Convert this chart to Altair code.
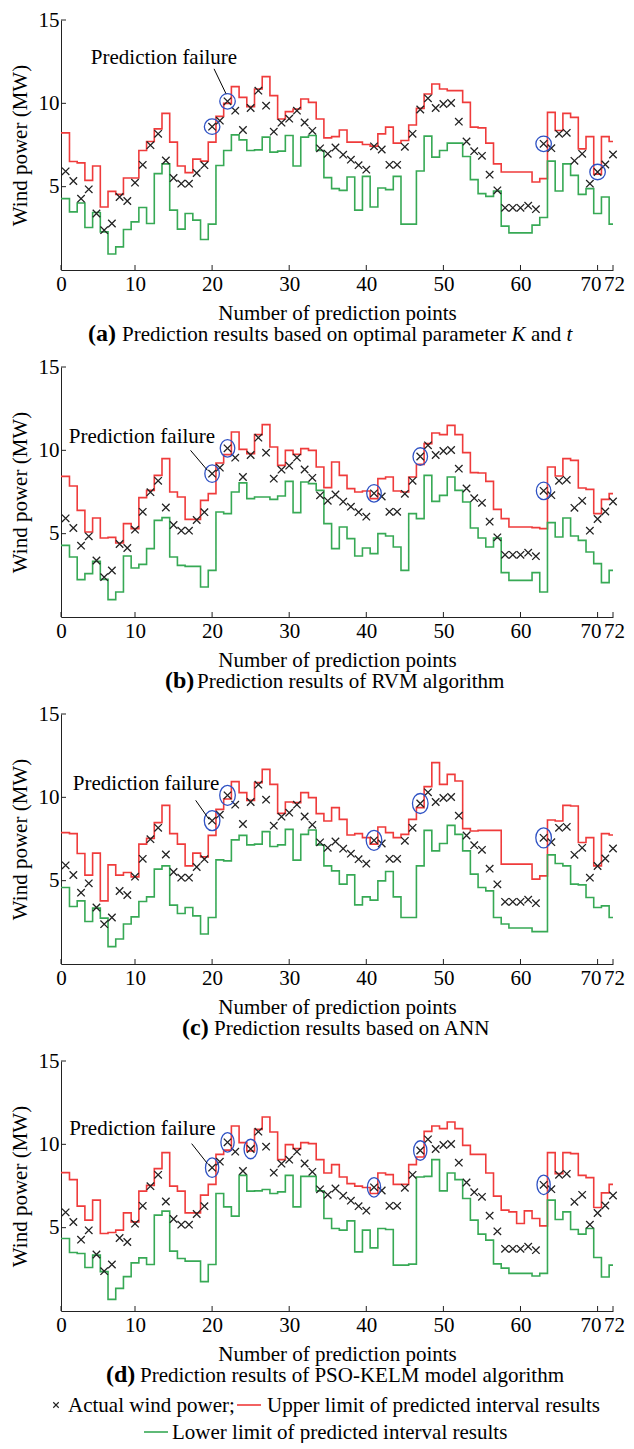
import altair as alt
import pandas as pd

FONT = "Liberation Serif"
RED = "#ef3b3b"
GREEN = "#37a955"
BLUE = "#2f52c4"
INK = "#222222"

# ---------------- data ----------------
points = list(range(1, 73))
actual = [5.92, 5.34, 4.28, 4.84, 3.39, 2.39, 2.79, 4.38, 4.14, 5.24,
          6.31, 7.49, 8.17, 6.57, 5.52, 5.18, 5.18, 5.82, 6.29, 8.60,
          8.96, 10.12, 9.56, 8.40, 9.72, 10.76, 9.86, 8.30, 8.84, 9.08,
          9.56, 8.85, 8.35, 7.30, 6.97, 7.35, 6.92, 6.62, 6.29, 6.02,
          7.42, 7.23, 6.31, 6.31, 7.39, 8.17, 9.63, 10.30, 9.72, 9.96,
          10.02, 8.90, 7.71, 7.13, 6.85, 5.72, 4.78, 3.73, 3.73, 3.73,
          3.86, 3.65, 7.57, 7.31, 8.17, 8.23, 6.55, 6.97, 5.18, 5.88,
          6.33, 6.93]

upper_a = [8.23, 6.51, 6.43, 5.38, 6.24, 3.78, 4.72, 4.54, 5.52, 5.52,
           7.17, 7.71, 8.47, 9.40, 7.67, 6.24, 5.84, 6.65, 6.53, 7.67,
           9.22, 10.00, 11.00, 10.36, 9.80, 10.86, 11.60, 10.46, 9.06, 9.50,
           9.66, 10.26, 10.06, 9.06, 7.93, 8.00, 8.40, 7.67, 7.67, 7.53,
           7.43, 8.17, 8.57, 7.61, 7.77, 8.70, 9.70, 10.56, 11.16, 10.86,
           10.76, 10.76, 10.06, 8.57, 8.53, 7.61, 6.37, 5.88, 5.88, 5.88,
           5.88, 5.28, 5.48, 9.46, 8.37, 9.40, 9.16, 7.27, 8.00, 5.75,
           8.00, 7.71]
lower_a = [4.28, 3.49, 4.02, 2.55, 3.45, 2.29, 0.96, 1.39, 2.43, 2.89,
           3.75, 2.79, 5.78, 6.37, 3.59, 2.45, 3.39, 2.99, 1.83, 2.75,
           6.27, 7.17, 8.11, 7.81, 7.17, 7.21, 7.97, 7.07, 7.13, 8.07,
           6.24, 7.97, 8.07, 7.17, 5.54, 4.88, 4.78, 5.58, 3.59, 5.62,
           3.78, 4.92, 4.82, 5.62, 2.75, 2.75, 5.94, 8.03, 6.77, 7.17,
           7.61, 7.61, 6.81, 5.42, 4.58, 4.42, 4.74, 2.63, 2.23, 2.23,
           2.23, 2.69, 3.15, 6.53, 4.74, 6.37, 5.68, 4.54, 4.88, 3.39,
           4.38, 2.75]

upper_b = [8.44, 7.86, 6.40, 5.10, 5.94, 4.74, 4.78, 4.44, 5.60, 5.30,
           7.16, 7.60, 8.50, 9.50, 7.50, 7.20, 5.86, 5.86, 7.00, 7.40,
           9.24, 9.74, 11.10, 10.06, 9.80, 10.94, 11.54, 10.20, 9.10, 10.00,
           9.76, 10.10, 10.00, 9.00, 7.76, 9.30, 8.50, 7.70, 7.50, 7.56,
           7.10, 8.30, 8.40, 7.56, 7.50, 8.40, 9.16, 10.40, 11.04, 10.94,
           11.50, 10.94, 9.86, 8.66, 8.64, 8.14, 6.46, 5.90, 5.40, 5.40,
           5.40, 5.36, 5.30, 9.00, 8.46, 9.50, 9.40, 7.74, 7.66, 6.20,
           7.06, 7.40]
lower_b = [4.30, 3.60, 2.24, 2.60, 3.34, 2.26, 1.04, 1.50, 3.66, 2.94,
           3.16, 4.10, 5.80, 5.96, 3.60, 3.10, 3.04, 3.04, 1.80, 2.80,
           6.30, 6.20, 7.50, 8.05, 7.10, 7.20, 7.20, 7.06, 7.26, 8.14,
           6.26, 8.10, 8.00, 7.60, 5.60, 4.10, 5.40, 4.70, 3.66, 4.14,
           3.80, 5.00, 4.86, 4.20, 2.80, 6.20, 5.90, 8.50, 6.94, 7.30,
           8.40, 7.60, 6.90, 5.34, 4.74, 4.20, 4.74, 2.66, 2.20, 2.20,
           2.20, 2.66, 1.50, 5.66, 4.80, 5.94, 4.86, 4.60, 3.90, 3.20,
           2.06, 2.80]

upper_c = [7.88, 7.82, 6.63, 5.33, 6.65, 3.79, 5.95, 5.33, 5.49, 5.23,
           7.19, 7.54, 8.48, 9.52, 7.82, 7.19, 5.89, 6.65, 6.43, 7.72,
           9.28, 9.90, 10.94, 10.28, 9.82, 10.88, 11.68, 10.78, 9.04, 9.72,
           9.68, 10.28, 9.98, 9.02, 8.58, 9.38, 8.68, 7.74, 7.82, 7.58,
           7.19, 8.22, 7.88, 7.58, 7.78, 8.68, 9.38, 10.64, 12.08, 10.78,
           11.38, 10.98, 8.12, 7.98, 8.02, 8.02, 8.02, 5.99, 5.99, 5.99,
           5.99, 5.09, 5.29, 8.64, 8.58, 9.52, 9.48, 7.29, 7.58, 5.89,
           7.82, 7.74]
lower_c = [4.59, 3.45, 3.79, 2.55, 3.35, 2.75, 1.04, 1.50, 2.40, 2.83,
           3.75, 4.03, 5.69, 5.89, 3.53, 3.03, 3.39, 2.89, 1.80, 2.79,
           6.25, 6.19, 7.45, 7.72, 7.15, 7.19, 7.94, 7.05, 7.15, 8.08,
           6.23, 7.78, 8.04, 7.15, 5.89, 5.59, 4.79, 5.35, 3.55, 4.03,
           3.83, 4.99, 5.55, 4.03, 2.79, 2.79, 5.89, 8.02, 6.79, 7.23,
           8.32, 7.78, 6.79, 5.39, 4.59, 4.39, 2.79, 2.40, 2.16, 2.16,
           2.16, 1.94, 1.94, 6.55, 6.03, 5.89, 4.79, 4.75, 3.99, 3.39,
           3.49, 2.79]

upper_d = [8.30, 7.88, 6.29, 5.45, 6.65, 4.65, 4.71, 4.85, 5.89, 5.35,
           7.19, 7.54, 8.54, 9.50, 7.49, 7.19, 5.89, 5.89, 6.95, 7.60,
           9.40, 9.65, 11.10, 10.10, 9.60, 10.90, 11.64, 10.74, 9.08, 9.98,
           9.74, 10.10, 10.04, 9.08, 8.28, 8.78, 8.04, 7.64, 7.49, 7.41,
           7.05, 8.28, 8.18, 7.60, 7.60, 8.78, 9.24, 10.78, 11.10, 10.94,
           11.34, 10.94, 9.94, 9.40, 9.40, 8.28, 6.89, 6.05, 5.95, 5.25,
           6.01, 5.55, 5.11, 9.50, 8.24, 9.50, 9.44, 8.14, 8.00, 6.21,
           7.09, 7.60]
lower_d = [4.35, 3.51, 3.45, 2.61, 3.35, 2.36, 0.70, 1.36, 2.06, 2.89,
           3.19, 2.79, 5.75, 5.99, 3.59, 3.15, 2.99, 2.99, 1.76, 2.79,
           7.05, 6.25, 5.69, 8.14, 7.19, 7.21, 7.29, 7.05, 7.15, 8.14,
           6.25, 8.08, 8.08, 7.21, 5.55, 4.95, 4.85, 5.41, 3.55, 4.85,
           3.79, 4.95, 4.89, 2.75, 2.75, 2.81, 8.04, 8.08, 9.08, 7.21,
           8.28, 7.88, 6.75, 5.45, 4.61, 4.25, 2.83, 2.57, 2.26, 2.26,
           2.26, 2.10, 2.26, 6.65, 5.49, 5.95, 4.89, 4.61, 4.95, 3.21,
           2.04, 2.75]

failures = [[20, 22, 63, 70],
            [20, 22, 41, 47, 63],
            [20, 22, 41, 47, 63],
            [20, 22, 25, 41, 47, 63]]

x_tick_labels = [0, 10, 20, 30, 40, 50, 60, 70, 72]
y_tick_labels = [5, 10, 15]

annotation_label = "Prediction failure"
annotation_text_pos = [(13.76, 12.75), (10.9, 10.8), (11.43, 10.82), (10.95, 10.94)]
annotation_lines = [(20.25, 12.07, 21.8, 10.58), (17.2, 10.0, 19.4, 8.8),
                    (17.87, 9.82, 19.6, 8.68), (17.35, 10.04, 19.4, 8.84)]

caption_tags = ["(a)", "(b)", "(c)", "(d)"]
caption_texts = ["Prediction results based on optimal parameter",
                 "Prediction results of RVM algorithm",
                 "Prediction results based on ANN",
                 "Prediction results of PSO-KELM model algorithm"]
caption_a_italic = ["K", "and", "t"]
legend_labels = ["Actual wind power;", "Upper limit of predicted interval results",
                 "Lower limit of predicted interval results"]

# ---------------- layout (pixels) ----------------
W, H = 552, 250
X_START = 0.4
tag_x = [27, 104, 121, 45]
text_x = [61, 136, 153, 79]
ital_x = [450.6, 470.0, 505.6]
CAP_Y = H + 71
# ellipse (x ratio, height px) per panel
circle_geom = [(1.0, 15.5), (0.83, 17.5), (0.78, 20.0), (0.68, 19.5)]

CROSS = "M-1,-1L1,1M-1,1L1,-1"

tick_pos = [X_START if t == 0 else t for t in x_tick_labels]
edges = [X_START] + [(points[i] + points[i + 1]) / 2 for i in range(len(points) - 1)] + [points[-1]]

xscale = alt.Scale(domain=[X_START, 72], nice=False, zero=False)
yscale = alt.Scale(domain=[0, 15], nice=False, zero=False)

xaxis = alt.Axis(values=tick_pos, labelExpr="datum.value < 1 ? '0' : datum.label",
                 ticks=False, grid=False, domainColor=INK, domainWidth=1,
                 labelFont=FONT, labelFontSize=21, labelColor="black", labelPadding=3,
                 labelFlush=False, labelOverlap=False,
                 labelOffset={"condition": [{"test": "datum.value == 70", "value": -7},
                                            {"test": "datum.value == 72", "value": 1}],
                              "value": 0},
                 titleFont=FONT, titleFontSize=21, titleFontWeight="normal",
                 titleColor="black", titlePadding=8)
yaxis = alt.Axis(values=y_tick_labels, ticks=False, grid=False, domainColor=INK, domainWidth=1,
                 labelFont=FONT, labelFontSize=21, labelColor="black", labelPadding=2,
                 labelFlush=False,
                 titleFont=FONT, titleFontSize=21, titleFontWeight="normal",
                 titleColor="black", titlePadding=8)


def X(field="x"):
    return alt.X(f"{field}:Q", scale=xscale, axis=xaxis, title="Number of prediction points")


def Y(field="y"):
    return alt.Y(f"{field}:Q", scale=yscale, axis=yaxis, title="Wind power (MW)")


def text_layer(txt, x, y, size=21, weight="normal", style="normal", align="left"):
    return alt.Chart(pd.DataFrame({"t": [txt]})).mark_text(
        font=FONT, fontSize=size, fontWeight=weight, fontStyle=style,
        align=align, baseline="alphabetic", color="black"
    ).encode(text="t:N", x=alt.value(x), y=alt.value(y))


def panel(i, upper, lower):
    up = pd.DataFrame({"x": edges, "y": upper + [upper[-1]]})
    lo = pd.DataFrame({"x": edges, "y": lower + [lower[-1]]})
    act = pd.DataFrame({"x": points, "y": actual})
    fl = pd.DataFrame({"x": failures[i], "y": [actual[k - 1] for k in failures[i]]})
    tx, ty = annotation_text_pos[i]
    ann = pd.DataFrame({"x": [tx], "y": [ty], "t": [annotation_label]})
    lx1, ly1, lx2, ly2 = annotation_lines[i]
    line = pd.DataFrame({"x": [lx1], "y": [ly1], "x2": [lx2], "y2": [ly2]})
    xt = pd.DataFrame({"x": tick_pos})
    yt = pd.DataFrame({"y": y_tick_labels})
    r, hpx = circle_geom[i]
    ell = f"M{-r},0A{r},1 0 1,1 {r},0A{r},1 0 1,1 {-r},0Z"

    layers = [
        alt.Chart(up).mark_line(interpolate="step-after", color=RED, strokeWidth=1.6).encode(x=X(), y=Y()),
        alt.Chart(lo).mark_line(interpolate="step-after", color=GREEN, strokeWidth=1.6).encode(x=X(), y=Y()),
        alt.Chart(act).mark_point(shape=CROSS, size=56, color=INK, strokeWidth=1.3,
                                  opacity=1).encode(x=X(), y=Y()),
        alt.Chart(fl).mark_point(shape=ell, size=hpx * hpx, color=BLUE, strokeWidth=1.3,
                                 opacity=1).encode(x=X(), y=Y()),
        alt.Chart(ann).mark_text(font=FONT, fontSize=21, align="center", baseline="middle",
                                 color="black").encode(x=X(), y=Y(), text="t:N"),
        alt.Chart(line).mark_rule(color="black", strokeWidth=1).encode(
            x=X(), y=Y(), x2=alt.X2("x2:Q"), y2=alt.Y2("y2:Q")),
        alt.Chart(xt).mark_rule(color=INK, strokeWidth=1).encode(
            x=X(), y=alt.value(H), y2=alt.value(H - 5)),
        alt.Chart(yt).mark_rule(color=INK, strokeWidth=1).encode(
            y=Y(), x=alt.value(0), x2=alt.value(5)),
        text_layer(caption_tags[i], tag_x[i], CAP_Y, size=24, weight="bold"),
        text_layer(caption_texts[i], text_x[i], CAP_Y),
    ]
    if i == 0:
        layers += [
            text_layer(caption_a_italic[0], ital_x[0], CAP_Y, style="italic"),
            text_layer(caption_a_italic[1], ital_x[1], CAP_Y),
            text_layer(caption_a_italic[2], ital_x[2], CAP_Y, style="italic"),
        ]
    if i == 3:
        L1, L2 = H + 94, H + 121
        layers += [
            alt.Chart(pd.DataFrame({"t": [legend_labels[0]]})).mark_point(
                shape=CROSS, size=30, color=INK, strokeWidth=1.1, opacity=1
            ).encode(x=alt.value(-5), y=alt.value(L1)),
            text_layer(legend_labels[0], 7, L1 + 7),
            alt.Chart(pd.DataFrame({"t": [legend_labels[1]]})).mark_rule(
                color=RED, strokeWidth=1.6
            ).encode(x=alt.value(176), x2=alt.value(200), y=alt.value(L1)),
            text_layer(legend_labels[1], 206, L1 + 7),
            alt.Chart(pd.DataFrame({"t": [legend_labels[2]]})).mark_rule(
                color=GREEN, strokeWidth=1.6
            ).encode(x=alt.value(83), x2=alt.value(107), y=alt.value(L2)),
            text_layer(legend_labels[2], 111, L2 + 7),
        ]
    return alt.layer(*layers).properties(width=W, height=H)


panels = [panel(0, upper_a, lower_a), panel(1, upper_b, lower_b),
          panel(2, upper_c, lower_c), panel(3, upper_d, lower_d)]

chart = alt.vconcat(*panels, spacing=97, bounds="flush").properties(
    padding={"left": 1, "top": 1, "right": 0, "bottom": 0}
).configure_view(strokeWidth=0)

chart.save("out.html", embed_options={"renderer": "svg", "actions": False})
